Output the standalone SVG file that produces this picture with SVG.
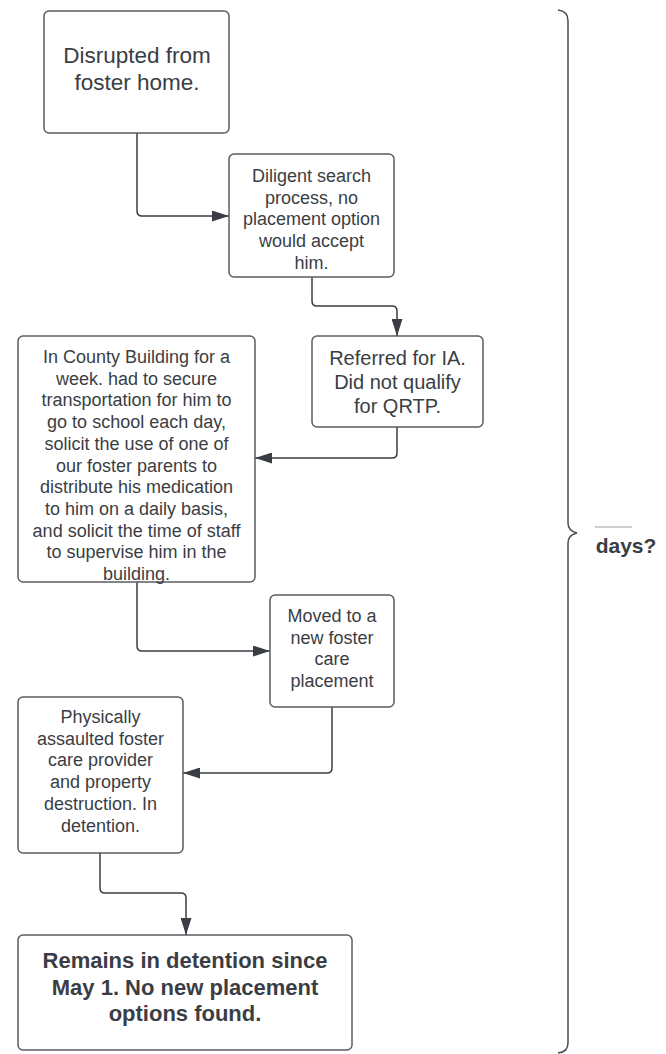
<svg xmlns="http://www.w3.org/2000/svg" width="666" height="1054" viewBox="0 0 666 1054">
<defs>
<style>
.box{fill:#fff;stroke:#5a5d62;stroke-width:1.5}
.t{font-family:"Liberation Sans",Arial,sans-serif;fill:#3a3e44;text-anchor:middle}
.b{font-weight:bold}
.c{fill:none;stroke:#3a3e44;stroke-width:1.5;stroke-linejoin:round}
</style>
<marker id="ah" viewBox="0 0 10 10" refX="10" refY="5" markerWidth="11" markerHeight="11" markerUnits="userSpaceOnUse" orient="auto">
<path d="M0,0 L10,5 L0,10 Z" fill="#3a3e44"/>
</marker>
<marker id="ah2" viewBox="0 0 10 10" refX="10" refY="5" markerWidth="17" markerHeight="11" markerUnits="userSpaceOnUse" orient="auto" preserveAspectRatio="none">
<path d="M0,0 L10,5 L0,10 Z" fill="#3a3e44"/>
</marker>
</defs>
<rect width="666" height="1054" fill="#fff"/>
<g id="connectors">
<path class="c" d="M137,133 V211 Q137,216 142,216 H229" marker-end="url(#ah2)"/>
<path class="c" d="M312,277 V301 Q312,306 317,306 H392 Q397,306 397,311 V336" marker-end="url(#ah2)"/>
<path class="c" d="M397,427 V453 Q397,458 392,458 H255" marker-end="url(#ah2)"/>
<path class="c" d="M137,582 V646 Q137,651 142,651 H270" marker-end="url(#ah2)"/>
<path class="c" d="M332,707 V768 Q332,773 327,773 H183" marker-end="url(#ah2)"/>
<path class="c" d="M100,853 V888 Q100,893 105,893 H181 Q186,893 186,898 V935" marker-end="url(#ah2)"/>
</g>
<g id="n1">
<rect class="box" x="44" y="11" width="185" height="122" rx="5"/>
<text class="t" font-size="22.5"><tspan x="137" y="63">Disrupted from</tspan><tspan x="137" y="90">foster home.</tspan></text>
</g>
<g id="n2">
<rect class="box" x="229" y="154" width="165" height="123" rx="5"/>
<text class="t" font-size="18"><tspan x="311.5" y="182">Diligent search</tspan><tspan x="311.5" y="203.7">process, no</tspan><tspan x="311.5" y="225.4">placement option</tspan><tspan x="311.5" y="247.1">would accept</tspan><tspan x="311.5" y="268.8">him.</tspan></text>
</g>
<g id="n3">
<rect class="box" x="312" y="336" width="171" height="91" rx="5"/>
<text class="t" font-size="20"><tspan x="397.5" y="365">Referred for IA.</tspan><tspan x="397.5" y="389">Did not qualify</tspan><tspan x="397.5" y="413">for QRTP.</tspan></text>
</g>
<g id="n4">
<rect class="box" x="18" y="336" width="237" height="246" rx="5"/>
<text class="t" font-size="18"><tspan x="136.5" y="363">In County Building for a</tspan><tspan x="136.5" y="384.7">week. had to secure</tspan><tspan x="136.5" y="406.4">transportation for him to</tspan><tspan x="136.5" y="428.1">go to school each day,</tspan><tspan x="136.5" y="449.8">solicit the use of one of</tspan><tspan x="136.5" y="471.5">our foster parents to</tspan><tspan x="136.5" y="493.2">distribute his medication</tspan><tspan x="136.5" y="514.9">to him on a daily basis,</tspan><tspan x="136.5" y="536.6">and solicit the time of staff</tspan><tspan x="136.5" y="558.3">to supervise him in the</tspan><tspan x="136.5" y="580">building.</tspan></text>
</g>
<g id="n5">
<rect class="box" x="270" y="595" width="124" height="112" rx="5"/>
<text class="t" font-size="18"><tspan x="332" y="622">Moved to a</tspan><tspan x="332" y="643.7">new foster</tspan><tspan x="332" y="665.4">care</tspan><tspan x="332" y="687.1">placement</tspan></text>
</g>
<g id="n6">
<rect class="box" x="18" y="697" width="165" height="156" rx="5"/>
<text class="t" font-size="18"><tspan x="100.5" y="723">Physically</tspan><tspan x="100.5" y="744.7">assaulted foster</tspan><tspan x="100.5" y="766.4">care provider</tspan><tspan x="100.5" y="788.1">and property</tspan><tspan x="100.5" y="809.8">destruction. In</tspan><tspan x="100.5" y="831.5">detention.</tspan></text>
</g>
<g id="n7">
<rect class="box" x="18" y="935" width="334" height="115" rx="5"/>
<text class="t b" font-size="22"><tspan x="185" y="968">Remains in detention since</tspan><tspan x="185" y="994.7">May 1. No new placement</tspan><tspan x="185" y="1021.4">options found.</tspan></text>
</g>
<g id="brace">
<path d="M558,10 Q568,11 568,21 V523 Q568,531 577,533 Q568,535 568,543 V1043 Q568,1052 558,1053" fill="none" stroke="#4a4d52" stroke-width="1.5"/>
<line x1="595" y1="527" x2="632" y2="527" stroke="#9a9da2" stroke-width="1.2"/>
<text class="t b" font-size="21" x="626" y="553">days?</text>
</g>
</svg>
